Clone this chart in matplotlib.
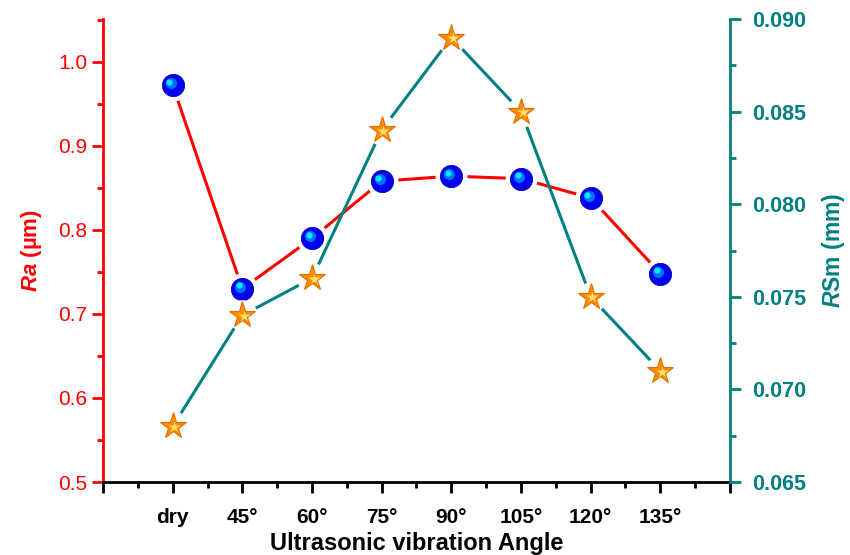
import matplotlib
matplotlib.use("Agg")
import matplotlib.pyplot as plt
import matplotlib.transforms as mtransforms
from matplotlib.ticker import MultipleLocator, FixedLocator, FormatStrFormatter

# data
angles = ["dry", "45°", "60°", "75°", "90°", "105°", "120°", "135°"]
ra_um = [0.972, 0.730, 0.790, 0.858, 0.864, 0.861, 0.838, 0.748]
rsm_mm = [0.0680, 0.0740, 0.0760, 0.0840, 0.0890, 0.0850, 0.0750, 0.0710]

red = "#FF0000"
teal = "#008080"

plt.rcParams["font.family"] = ["Liberation Sans", "DejaVu Sans"]
plt.rcParams["mathtext.fontset"] = "custom"
plt.rcParams["mathtext.it"] = "Liberation Sans:italic:bold"
plt.rcParams["mathtext.rm"] = "Liberation Sans:bold"

fig = plt.figure(figsize=(8.5, 5.55), dpi=100)
ax = fig.add_axes([103 / 850, 1 - 482 / 555, 627 / 850, 463 / 555])
ax2 = ax.twinx()

x = list(range(1, len(angles) + 1))

# Ra series: red line, white gap, blue spheres
ax.plot(x, ra_um, color=red, lw=2.2, zorder=2)
ax.plot(x, ra_um, ls="none", marker="o", ms=23, mfc="white", mec="none", zorder=3)
ax.plot(x, ra_um, ls="none", marker="o", ms=16, mfc="#0000F0", mec="#0000C0", mew=0.6, zorder=4)
hl1 = mtransforms.offset_copy(ax.transData, fig=fig, x=-1.5, y=1.5, units="points")
ax.plot(x, ra_um, ls="none", marker="o", ms=8, mfc="#0070FF", mec="none", transform=hl1, zorder=5)
hl2 = mtransforms.offset_copy(ax.transData, fig=fig, x=-2.5, y=2.5, units="points")
ax.plot(x, ra_um, ls="none", marker="o", ms=4.5, mfc="#00E8FF", mec="none", transform=hl2, zorder=6)

# RSm series: teal line, white gap, orange stars
ax2.plot(x, rsm_mm, color=teal, lw=2.2, zorder=2)
ax2.plot(x, rsm_mm, ls="none", marker="o", ms=22, mfc="white", mec="none", zorder=3)
ax2.plot(x, rsm_mm, ls="none", marker="*", ms=20, mfc="#FF8C00", mec="#E07000", mew=0.8, zorder=4)
ax2.plot(x, rsm_mm, ls="none", marker="*", ms=9, mfc="#FFE070", mec="none",
         transform=mtransforms.offset_copy(ax2.transData, fig=fig, x=1.2, y=-0.5, units="points"),
         zorder=5)

ax.set_xlim(0, 9)
ax.set_ylim(0.5, 1.051)
ax2.set_ylim(0.065, 0.090)

ax.xaxis.set_major_locator(FixedLocator(range(0, 10)))
ax.set_xticklabels([""] + angles + [""], fontsize=15, fontweight="bold")
ax.xaxis.set_minor_locator(MultipleLocator(0.5))
ax.yaxis.set_major_locator(MultipleLocator(0.1))
ax.yaxis.set_minor_locator(MultipleLocator(0.05))
ax2.yaxis.set_major_locator(MultipleLocator(0.005))
ax2.yaxis.set_minor_locator(MultipleLocator(0.0025))
ax.yaxis.set_major_formatter(FormatStrFormatter("%.1f"))
ax2.yaxis.set_major_formatter(FormatStrFormatter("%.3f"))

for a in (ax, ax2):
    a.spines["top"].set_visible(False)
    for s in a.spines.values():
        s.set_linewidth(2)
ax.spines["right"].set_visible(False)
ax.spines["left"].set_color(red)
ax.spines["bottom"].set_color("black")
ax2.spines["left"].set_visible(False)
ax2.spines["bottom"].set_visible(False)
ax2.spines["right"].set_color(teal)

ax.tick_params(axis="x", which="major", direction="out", length=8, width=2, pad=11, colors="black")
ax.tick_params(axis="x", which="minor", direction="out", length=4, width=2)
ax.tick_params(axis="y", which="major", direction="out", length=8, width=2, colors=red, labelsize=15)
ax.tick_params(axis="y", which="minor", direction="out", length=4, width=2, colors=red)
ax2.tick_params(axis="y", which="major", direction="out", length=8, width=2, colors=teal,
                labelsize=15.5, pad=8)
ax2.tick_params(axis="y", which="minor", direction="out", length=4, width=2, colors=teal)
for lbl in ax2.get_yticklabels():
    lbl.set_fontweight("bold")

ax.set_xlabel("Ultrasonic vibration Angle", fontsize=17, fontweight="bold", labelpad=3)
ax.set_ylabel(r"$Ra$ (µm)", fontsize=16, fontweight="bold", color=red, labelpad=10)
ax2.set_ylabel(r"$R$Sm (mm)", fontsize=16.5, fontweight="bold", color=teal, labelpad=10)

fig.savefig("out.png", dpi=100)
